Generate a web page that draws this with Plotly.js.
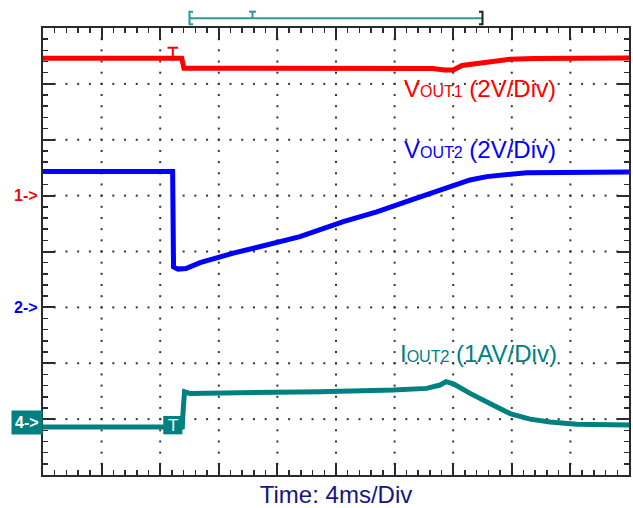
<!DOCTYPE html>
<html><head><meta charset="utf-8">
<script src="https://cdn.plot.ly/plotly-3.0.1.min.js"></script>
<style>html,body{margin:0;padding:0;background:#fff;}#chart{width:633px;height:508px;}</style>
</head><body><div id="chart"></div>
<script>
// ---- data read from the scope capture (time in ms, volts / amps) ----
const timeVout1 = [0, 9.47, 9.62, 17.5, 26.6, 27.4, 28.0, 28.6, 29.6, 30.9, 31.9, 33.5, 40];
const vout1     = [4.92, 4.92, 4.56, 4.56, 4.55, 4.50, 4.50, 4.66, 4.74, 4.80, 4.88, 4.91, 4.93];

const timeVout2 = [0, 8.85, 8.91, 9.22, 9.76, 10.72, 12.99, 15.27, 17.54, 20.5, 22.78, 25.05, 27.32, 29.15, 30.29, 31.88, 33.02, 40];
const vout2     = [4.86, 4.86, 1.45, 1.37, 1.39, 1.60, 1.94, 2.23, 2.53, 3.07, 3.42, 3.83, 4.26, 4.56, 4.68, 4.76, 4.82, 4.85];

const timeIout2 = [0, 9.51, 9.56, 9.66, 10.03, 14.13, 18.91, 23.91, 26.19, 27.1, 27.51, 28.01, 29.15, 30.74, 31.88, 33.24, 34.61, 36.43, 40];
const iout2     = [-0.14, -0.14, 0.13, 0.49, 0.46, 0.47, 0.49, 0.52, 0.55, 0.61, 0.67, 0.63, 0.46, 0.25, 0.10, 0.00, -0.05, -0.09, -0.105];

const channelLabels = ['V<span style="font-size:16px">OUT1</span> (2V/Div)',
                       'V<span style="font-size:16px">OUT2</span> (2V/Div)',
                       'I<span style="font-size:16px">OUT2</span> (1AV/Div)'];
const groundLabels = ['1->', '2->', '4->'];
const timeLabel = 'Time: 4ms/Div';

// ---- scope settings ----
const msPerDiv = 4, xDivs = 10, yDivs = 8;
const ch1 = {perDiv: 2, groundDiv: 5};
const ch2 = {perDiv: 2, groundDiv: 3};
const ch4 = {perDiv: 1, groundDiv: 1};
const triggerTime = 8.86;
const windowStart = 10, windowEnd = 30, windowMark = 14.3;

function rangeFor(ch) { return [-ch.groundDiv * ch.perDiv, (yDivs - ch.groundDiv) * ch.perDiv]; }

const RED = '#ff0000', BLUE = '#0000ff', TEAL = '#008080', NAVY = '#16167f', FRAME = '#2a2a2a';
const FONT = 'Liberation Sans, Arial, Helvetica, sans-serif';

// graticule dots
const gx = [], gy = [];
for (let i = 1; i < xDivs; i++) for (let k = 1; k < yDivs * 5; k++) { gx.push(i * msPerDiv); gy.push(k / 5); }
for (let j = 1; j < yDivs; j++) for (let k = 1; k < xDivs * 5; k++) { gx.push(k * msPerDiv / 5); gy.push(j); }

const traces = [
  {x: gx, y: gy, xaxis: 'x', yaxis: 'y', mode: 'markers', type: 'scatter',
   marker: {symbol: 'square', size: 2, color: '#333'}, hoverinfo: 'skip'},
  {x: timeIout2, y: iout2, yaxis: 'y4', mode: 'lines', type: 'scatter', line: {color: TEAL, width: 5}},
  {x: timeVout2, y: vout2, yaxis: 'y3', mode: 'lines', type: 'scatter', line: {color: BLUE, width: 5}},
  {x: timeVout1, y: vout1, yaxis: 'y2', mode: 'lines', type: 'scatter', line: {color: RED, width: 5}}
];

const axCommon = {showgrid: false, zeroline: false, showline: true, mirror: 'ticks', linecolor: FRAME, linewidth: 2,
  ticks: 'inside', ticklen: 12, tickwidth: 2, tickcolor: FRAME, showticklabels: false, fixedrange: true, automargin: false};

const layout = {
  width: 633, height: 508,
  margin: {l: 43, r: 4, t: 28, b: 33},
  paper_bgcolor: '#fff', plot_bgcolor: '#fff',
  showlegend: false,
  xaxis: Object.assign({}, axCommon, {range: [0, xDivs * msPerDiv], tick0: 0, dtick: msPerDiv,
    minor: {tick0: 0, dtick: msPerDiv / 5, ticks: 'inside', ticklen: 5, tickwidth: 1.5, tickcolor: FRAME, showgrid: false},
    title: {text: timeLabel, font: {family: FONT, size: 24, color: NAVY}, standoff: 10}}),
  yaxis: Object.assign({}, axCommon, {range: [0, yDivs], tick0: 0, dtick: 1,
    minor: {tick0: 0, dtick: 0.2, ticks: 'inside', ticklen: 5, tickwidth: 1.5, tickcolor: FRAME, showgrid: false}}),
  yaxis2: {overlaying: 'y', range: rangeFor(ch1), visible: false, fixedrange: true},
  yaxis3: {overlaying: 'y', range: rangeFor(ch2), visible: false, fixedrange: true},
  yaxis4: {overlaying: 'y', range: rangeFor(ch4), visible: false, fixedrange: true},
  annotations: [
    {text: channelLabels[0], xref: 'paper', yref: 'paper', x: 0.6126, y: 0.8649, xanchor: 'left', yanchor: 'middle',
     showarrow: false, font: {family: FONT, size: 24, color: RED}},
    {text: channelLabels[1], xref: 'paper', yref: 'paper', x: 0.6131, y: 0.7277, xanchor: 'left', yanchor: 'middle',
     showarrow: false, font: {family: FONT, size: 24, color: BLUE}},
    {text: channelLabels[2], xref: 'paper', yref: 'paper', x: 0.605, y: 0.2727, xanchor: 'left', yanchor: 'middle',
     showarrow: false, font: {family: FONT, size: 24, color: TEAL}},
    {text: '<b>' + groundLabels[0] + '</b>', xref: 'paper', yref: 'y2', x: 0, y: 0, xanchor: 'right', yanchor: 'middle',
     xshift: -3, showarrow: false, font: {family: FONT, size: 16, color: RED}},
    {text: '<b>' + groundLabels[1] + '</b>', xref: 'paper', yref: 'y3', x: 0, y: 0, xanchor: 'right', yanchor: 'middle',
     xshift: -3, showarrow: false, font: {family: FONT, size: 16, color: BLUE}},
    {text: '<b>' + groundLabels[2] + '</b>', xref: 'paper', yref: 'y4', x: 0, y: 0, xanchor: 'right', yanchor: 'middle',
     yshift: -3, borderpad: 3, bgcolor: TEAL, showarrow: false, font: {family: FONT, size: 16, color: '#fff'}},
    {text: 'T', xref: 'x', yref: 'y', x: triggerTime, y: 0.892, xanchor: 'center', yanchor: 'middle',
     showarrow: false, font: {family: FONT, size: 17, color: '#fff'}}
  ],
  shapes: [
    // trigger box on channel 4
    {type: 'rect', xref: 'x', yref: 'y', x0: triggerTime - 0.65, x1: triggerTime + 0.65, y0: 0.728, y1: 1.056,
     fillcolor: TEAL, line: {width: 0}, layer: 'above'},
    // trigger marker on channel 1
    {type: 'line', xref: 'x', yref: 'y', x0: triggerTime - 0.36, x1: triggerTime + 0.36, y0: 7.647, y1: 7.647,
     line: {color: RED, width: 2}},
    {type: 'line', xref: 'x', yref: 'y', x0: triggerTime, x1: triggerTime, y0: 7.647, y1: 7.49,
     line: {color: RED, width: 2}},
    // record window bracket above the plot
    {type: 'line', xref: 'paper', yref: 'paper', x0: windowStart / 40, x1: windowEnd / 40, y0: 1.0217, y1: 1.0217,
     line: {color: '#2a9a96', width: 2}},
    {type: 'path', xref: 'paper', yref: 'paper',
     path: 'M' + (windowStart / 40 + 0.006) + ',1.0366 L' + (windowStart / 40) + ',1.0366 L' + (windowStart / 40) + ',1.0083 L' + (windowStart / 40 + 0.006) + ',1.0083',
     line: {color: '#2a9a96', width: 2}},
    {type: 'path', xref: 'paper', yref: 'paper',
     path: 'M' + (windowEnd / 40 - 0.006) + ',1.0366 L' + (windowEnd / 40) + ',1.0366 L' + (windowEnd / 40) + ',1.0083 L' + (windowEnd / 40 - 0.006) + ',1.0083',
     line: {color: '#222', width: 2}},
    {type: 'line', xref: 'paper', yref: 'paper', x0: windowMark / 40, x1: windowMark / 40, y0: 1.0366, y1: 1.0217,
     line: {color: '#2a9a96', width: 2}},
    {type: 'line', xref: 'paper', yref: 'paper', x0: windowMark / 40 - 0.006, x1: windowMark / 40 + 0.006, y0: 1.0366, y1: 1.0366,
     line: {color: '#2a9a96', width: 2}}
  ]
};

Plotly.newPlot('chart', traces, layout, {displayModeBar: false, staticPlot: true});
</script>
</body></html>
